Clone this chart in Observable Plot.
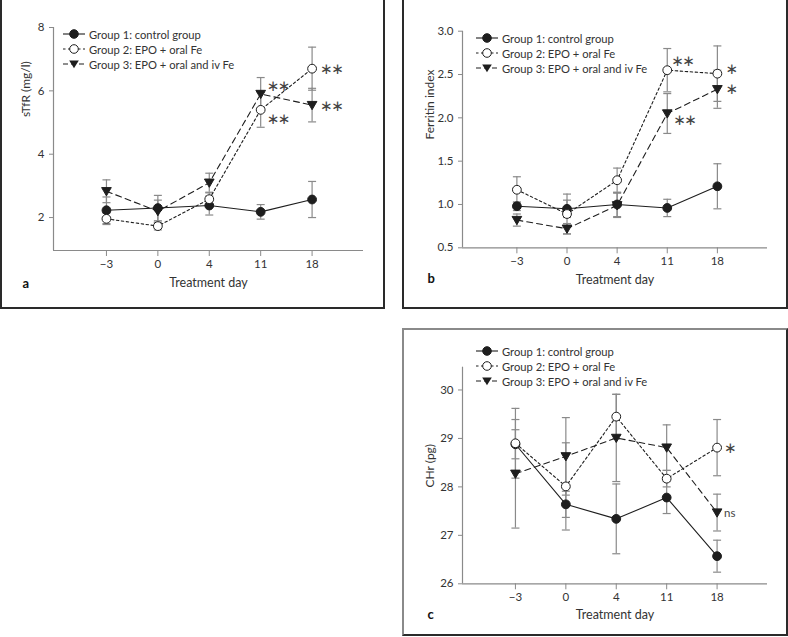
<!DOCTYPE html>
<html><head><meta charset="utf-8">
<script src="https://cdn.jsdelivr.net/npm/d3@7"></script>
<script src="https://cdn.jsdelivr.net/npm/@observablehq/plot@0.6"></script>
<style>
body{margin:0;background:#fff;font-family:Lato,"Open Sans",sans-serif;}
#fig{position:relative;width:788px;height:637px;overflow:hidden;background:#fff}
.box{position:absolute;box-sizing:border-box}
.panel{position:absolute}
.legend{position:absolute;font-size:11.2px;color:#333;font-family:Lato,sans-serif}
.legend .row{display:flex;align-items:center;height:15px;white-space:nowrap}
.legend svg{display:block;margin-right:4px}
.sig text{letter-spacing:-1.5px}
</style></head><body><div id="fig"></div>
<script>
// ---------- data ----------
const days = ["\u22123", "0", "4", "11", "18"];
const groupNames = ["Group 1: control group", "Group 2: EPO + oral Fe", "Group 3: EPO + oral and iv Fe"];

// Panel a: sTfR (mg/l)
const sTfR_g1 = [2.23, 2.30, 2.38, 2.18, 2.57];
const sTfR_g1_err = [0.42, 0.40, 0.30, 0.23, 0.57];
const sTfR_g2 = [1.96, 1.73, 2.58, 5.40, 6.70];
const sTfR_g2_err = [0.18, 0.12, 0.20, 0.55, 0.68];
const sTfR_g3 = [2.83, 2.20, 3.10, 5.90, 5.55];
const sTfR_g3_err = [0.36, 0.35, 0.30, 0.52, 0.53];
const sTfR_ticks = [2, 4, 6, 8];
const sTfR_sig = [
  {g: 2, i: 3, text: "\u2217\u2217", at: "above"},
  {g: 1, i: 3, text: "\u2217\u2217", at: "below"},
  {g: 1, i: 4, text: "\u2217\u2217", at: "right"},
  {g: 2, i: 4, text: "\u2217\u2217", at: "right"}
];

// Panel b: Ferritin index
const fer_g1 = [0.98, 0.95, 1.00, 0.96, 1.21];
const fer_g1_err = [0.05, 0.10, 0.14, 0.10, 0.26];
const fer_g2 = [1.17, 0.89, 1.28, 2.55, 2.51];
const fer_g2_err = [0.15, 0.23, 0.14, 0.25, 0.32];
const fer_g3 = [0.82, 0.72, 0.99, 2.05, 2.33];
const fer_g3_err = [0.07, 0.06, 0.14, 0.23, 0.22];
const fer_ticks = [0.5, 1.0, 1.5, 2.0, 2.5, 3.0];
const fer_sig = [
  {g: 1, i: 3, text: "\u2217\u2217", at: "above"},
  {g: 2, i: 3, text: "\u2217\u2217", at: "below"},
  {g: 1, i: 4, text: "\u2217", at: "upright"},
  {g: 2, i: 4, text: "\u2217", at: "right"}
];

// Panel c: CHr (pg)
const chr_g1 = [28.88, 27.64, 27.34, 27.78, 26.57];
const chr_g1_err = [0.30, 0.27, 0.72, 0.33, 0.33];
const chr_g2 = [28.90, 28.01, 29.45, 28.17, 28.81];
const chr_g2_err = [0.72, 0.90, 0.46, 0.17, 0.58];
const chr_g3 = [28.27, 28.63, 29.01, 28.81, 27.47];
const chr_g3_err = [1.12, 0.80, 0.90, 0.47, 0.38];
const chr_ticks = [26, 27, 28, 29, 30];
const chr_sig = [
  {g: 1, i: 4, text: "\u2217", at: "right"},
  {g: 2, i: 4, text: "ns", at: "right"}
];

// ---------- drawing ----------
const fig = document.getElementById("fig");
const AX = "#8a8a8a", INK = "#1e1e1e", TXT = "#333";

const triDown = {draw(ctx, size) {
  const r = Math.sqrt(size / Math.PI);
  ctx.moveTo(-r * 1.05, -r * 0.8); ctx.lineTo(r * 1.05, -r * 0.8); ctx.lineTo(0, r * 1.0); ctx.closePath();
}};
const capSym = {draw(ctx, size) {
  const r = Math.sqrt(size / Math.PI);
  ctx.moveTo(-r, 0); ctx.lineTo(r, 0);
}};
const styles = [
  {dash: null, symbol: "circle", fill: INK},
  {dash: "2.5,2.5", symbol: "circle", fill: "white"},
  {dash: "6,4", symbol: triDown, fill: INK}
];

function addBox(left, top, width, height, colors) {
  const d = document.createElement("div");
  d.className = "box";
  Object.assign(d.style, {left: left + "px", top: top + "px", width: width + "px", height: height + "px",
    border: "2px solid", borderColor: colors});
  fig.appendChild(d);
}

function addLegend(left, top) {
  const lg = document.createElement("div");
  lg.className = "legend";
  lg.style.left = left + "px"; lg.style.top = top + "px";
  groupNames.forEach((name, g) => {
    const s = styles[g];
    let sym;
    if (g === 2) sym = `<path d="M6.2,1.6 L15.8,1.6 L11,9.2 Z" fill="${INK}"/>`;
    else sym = `<circle cx="11" cy="5" r="4.3" fill="${s.fill}" stroke="${INK}" stroke-width="1"/>`;
    const row = document.createElement("div");
    row.className = "row";
    row.innerHTML = `<svg width="22" height="10"><line x1="0" x2="22" y1="5" y2="5" stroke="${INK}" stroke-width="1.1" ${s.dash ? `stroke-dasharray="${g === 1 ? "2.5,2.5" : "5,3"}"` : ""}/>${sym}</svg><span>${name}</span>`;
    lg.appendChild(row);
  });
  fig.appendChild(lg);
}

function panel(cfg) {
  const data = [];
  cfg.values.forEach((vals, g) => vals.forEach((v, i) => data.push({g, i, v, e: cfg.errors[g][i]})));
  const off = cfg.offsets;
  const sig = cfg.sig.map(s => ({...s, v: cfg.values[s.g][s.i]}));
  const marks = [
    Plot.ruleX([cfg.xMin], {stroke: AX, strokeWidth: 1.2}),
    Plot.ruleY([cfg.yDomain[0]], {stroke: AX, strokeWidth: 1.2}),
    Plot.axisX({ticks: [0, 1, 2, 3, 4], tickFormat: i => days[i], tickSize: 6, tickPadding: 3,
      stroke: AX, color: TXT, label: null, fontSize: 11.5}),
    Plot.axisY({ticks: cfg.yTicks, tickFormat: cfg.yFormat, tickSize: 4, tickPadding: 5,
      stroke: AX, color: TXT, label: null, fontSize: 11.5}),
    // error bars
    Plot.ruleX(data, {x: "i", y1: d => d.v - d.e, y2: d => d.v + d.e, stroke: AX, strokeWidth: 1.2}),
    Plot.dot(data, {x: "i", y: d => d.v - d.e, symbol: capSym, r: 4, fill: "none", stroke: AX, strokeWidth: 1.2}),
    Plot.dot(data, {x: "i", y: d => d.v + d.e, symbol: capSym, r: 4, fill: "none", stroke: AX, strokeWidth: 1.2})
  ];
  [0, 1, 2].forEach(g => {
    const gd = data.filter(d => d.g === g);
    marks.push(Plot.line(gd, {x: "i", y: "v", stroke: INK, strokeWidth: 1.1, strokeDasharray: styles[g].dash}));
  });
  [0, 1, 2].forEach(g => {
    const gd = data.filter(d => d.g === g);
    marks.push(Plot.dot(gd, {x: "i", y: "v", r: g === 2 ? 4.6 : 4.4, symbol: styles[g].symbol,
      fill: styles[g].fill, stroke: INK, strokeWidth: 1}));
  });
  ["above", "below", "right", "upright"].forEach(at => {
    const stars = sig.filter(s => s.at === at && s.text !== "ns");
    if (stars.length) marks.push(Plot.text(stars, {x: "i", y: "v", text: "text", textAnchor: "start",
      dx: off[at][0], dy: off[at][1], fontSize: 15, fill: "#444", fontFamily: "DejaVu Sans", className: "sig"}));
    const words = sig.filter(s => s.at === at && s.text === "ns");
    if (words.length) marks.push(Plot.text(words, {x: "i", y: "v", text: "text", textAnchor: "start",
      dx: off[at][0], dy: off[at][1], fontSize: 11.5, fill: "#444"}));
  });
  marks.push(Plot.text(["Treatment day"], {frameAnchor: "bottom", dy: cfg.xLabelDy, fontSize: 12.5, fill: TXT}));
  marks.push(Plot.text([cfg.yLabel], {frameAnchor: "left", rotate: -90, dx: cfg.yLabelDx, dy: cfg.yLabelDy, fontSize: 12, fill: TXT}));
  marks.push(Plot.text([cfg.letter], {frameAnchor: "bottom-left", dx: cfg.letterPos[0], dy: cfg.letterPos[1],
    fontSize: 13, fontWeight: "bold", fill: "#111", textAnchor: "start"}));

  const svg = Plot.plot({
    width: cfg.width, height: cfg.height,
    marginLeft: cfg.m[0], marginTop: cfg.m[1], marginRight: cfg.m[2], marginBottom: cfg.m[3],
    x: {type: "linear", domain: [cfg.xMin, 5], axis: null},
    y: {type: "linear", domain: cfg.yDomain, axis: null},
    style: {fontFamily: "Lato, sans-serif", fontSize: "11.5px", color: TXT, background: "transparent", overflow: "visible"},
    marks
  });
  svg.classList.add("panel");
  svg.style.left = cfg.left + "px"; svg.style.top = cfg.top + "px"; svg.style.position = "absolute";
  fig.appendChild(svg);
}

// boxes
addBox(0, -5, 385, 314, "#2a2a2a");
addBox(402, -5, 386, 314, "#2a2a2a");
addBox(402, 328, 386, 308, "#8a8a8a #2a2a2a #2a2a2a #8a8a8a");

panel({
  left: 0, top: 0, width: 383, height: 308, m: [53, 27, 20, 58],
  xMin: -1.03, yDomain: [0.96, 8], yTicks: sTfR_ticks, yFormat: d3.format("d"),
  values: [sTfR_g1, sTfR_g2, sTfR_g3], errors: [sTfR_g1_err, sTfR_g2_err, sTfR_g3_err],
  sig: sTfR_sig, offsets: {above: [6, -8], below: [6, 9], right: [8, 1]},
  yLabel: "sTfR (mg/l)", yLabelDx: -27, yLabelDy: -22, xLabelDy: 36, letter: "a", letterPos: [-31, 37]
});
panel({
  left: 403, top: 0, width: 384, height: 308, m: [59, 30.7, 20, 60.7],
  xMin: -1.085, yDomain: [0.5, 3.0], yTicks: fer_ticks, yFormat: d3.format(".1f"),
  values: [fer_g1, fer_g2, fer_g3], errors: [fer_g1_err, fer_g2_err, fer_g3_err],
  sig: fer_sig, offsets: {above: [4, -9], below: [6, 7], right: [8, 0], upright: [8, -4]},
  yLabel: "Ferritin index", yLabelDx: -32, yLabelDy: 0, xLabelDy: 36, letter: "b", letterPos: [-35, 35]
});
panel({
  left: 403, top: 329, width: 384, height: 306, m: [59, 37.7, 20, 51.7],
  xMin: -1.05, yDomain: [26, 30.47], yTicks: chr_ticks, yFormat: d3.format("d"),
  values: [chr_g1, chr_g2, chr_g3], errors: [chr_g1_err, chr_g2_err, chr_g3_err],
  sig: chr_sig, offsets: {above: [6, -8], below: [6, 9], right: [7, 1]},
  yLabel: "CHr (pg)", yLabelDx: -32, yLabelDy: 12, xLabelDy: 35, letter: "c", letterPos: [-35, 35]
});

addLegend(63, 26.5);
addLegend(476, 30.5);
addLegend(476, 343.5);
</script></body></html>
